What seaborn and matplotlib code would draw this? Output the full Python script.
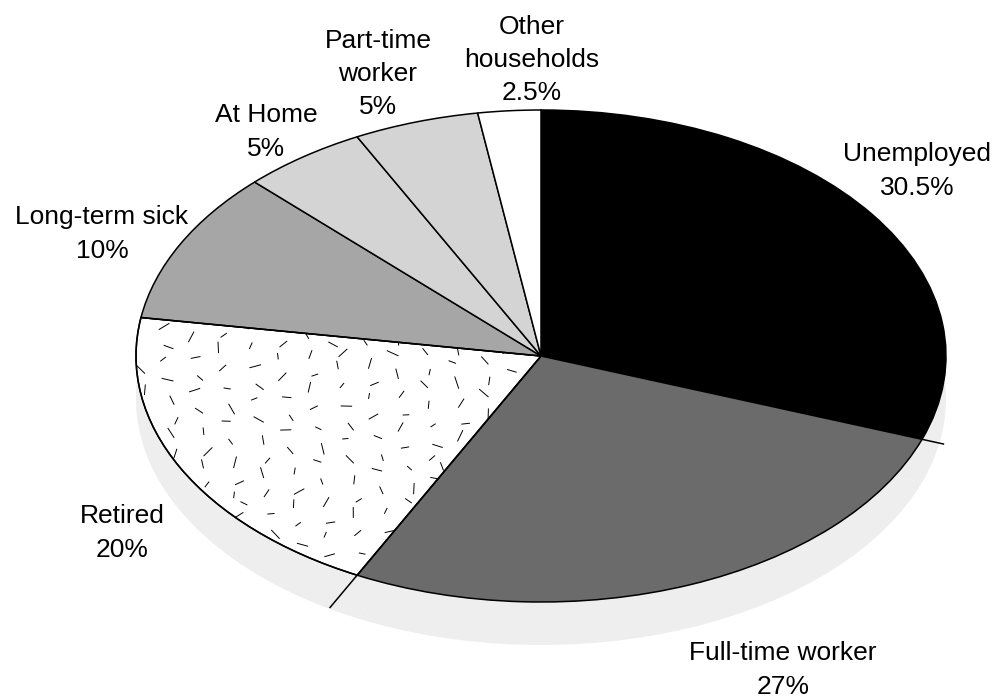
import numpy as np
import matplotlib
matplotlib.use("Agg")
import matplotlib.pyplot as plt
from matplotlib.collections import LineCollection
from matplotlib.patches import Wedge
import seaborn as sns

labels = ["Unemployed\n30.5%", "Full-time worker\n27%", "Retired\n20%", "Long-term sick\n10%",
          "At Home\n5%", "Part-time\nworker\n5%", "Other\nhouseholds\n2.5%"]
values = [30.5, 27, 20, 10, 5, 5, 2.5]
colors = ["#000000", "#6b6b6b", "#ffffff", "#a6a6a6", "#d4d4d4", "#d4d4d4", "#ffffff"]
# label centres in pixels
label_x = [917, 783, 122, 102, 266, 378, 532]
label_y = [171, 670, 533, 234, 132, 74, 60]

sns.set_theme(style="white")
plt.rcParams["font.family"] = ["Liberation Sans", "DejaVu Sans"]

W, H = 994, 699
cx, cy, rx, ry = 541, 356, 405, 246
drop = 43 / ry


def to_data(px, py):
    return (np.asarray(px) - cx) / rx, (cy - np.asarray(py)) / ry


fig = plt.figure(figsize=(W / 100, H / 100), dpi=100)
ax = fig.add_axes([0, 0, 1, 1])

# grey shadow underneath
ax.pie(values, colors=["#eeeeee"] * len(values), startangle=90, counterclock=False,
       center=(0, -drop), wedgeprops={"linewidth": 0})
wedges, _ = ax.pie(values, colors=colors, startangle=90, counterclock=False,
                   wedgeprops={"edgecolor": "black", "linewidth": 1.1})

ax.set_aspect("auto")
ax.set_xlim(-cx / rx, (W - cx) / rx)
ax.set_ylim(-(H - cy) / ry, cy / ry)
ax.axis("off")

# speckle texture on the Retired slice (not data, golden-ratio style sequence)
n = 205
idx = np.arange(1, n + 1)
tx = 137 + 404 * ((idx * 0.7548777) % 1)
ty = 316 + 264 * ((idx * 0.5698403) % 1)
ang = np.pi * ((idx * 0.3819660) % 1)
length = 6 + 7 * ((idx * 0.4142136) % 1)
x0, y0 = to_data(tx - np.cos(ang) * length / 2, ty - np.sin(ang) * length / 2)
x1, y1 = to_data(tx + np.cos(ang) * length / 2, ty + np.sin(ang) * length / 2)
segs = [[(a, b), (c, d)] for a, b, c, d in zip(x0, y0, x1, y1)]
speck = LineCollection(segs, colors="black", linewidths=0.7, zorder=2)
ax.add_collection(speck)
speck.set_clip_path(wedges[2])

# outline again above the speckles
ax.add_patch(Wedge(wedges[2].center, wedges[2].r, wedges[2].theta1, wedges[2].theta2,
                   facecolor="none", edgecolor="black", linewidth=1.1, zorder=3))

# two slice borders run on over the shadow
cum = np.cumsum(values) / sum(values)
for frac, reach in zip(cum[:2], [1.058, 1.15]):
    a = np.pi / 2 - 2 * np.pi * frac
    ax.plot([np.cos(a), reach * np.cos(a)], [np.sin(a), reach * np.sin(a)], color="black", lw=1.1,
            solid_capstyle="butt", zorder=3)

for text, px, py in zip(labels, label_x, label_y):
    x, y = to_data(px, py)
    ax.text(x, y, text, ha="center", va="center", fontsize=19, color="black", linespacing=1.48)

fig.savefig("out.png", dpi=100)
